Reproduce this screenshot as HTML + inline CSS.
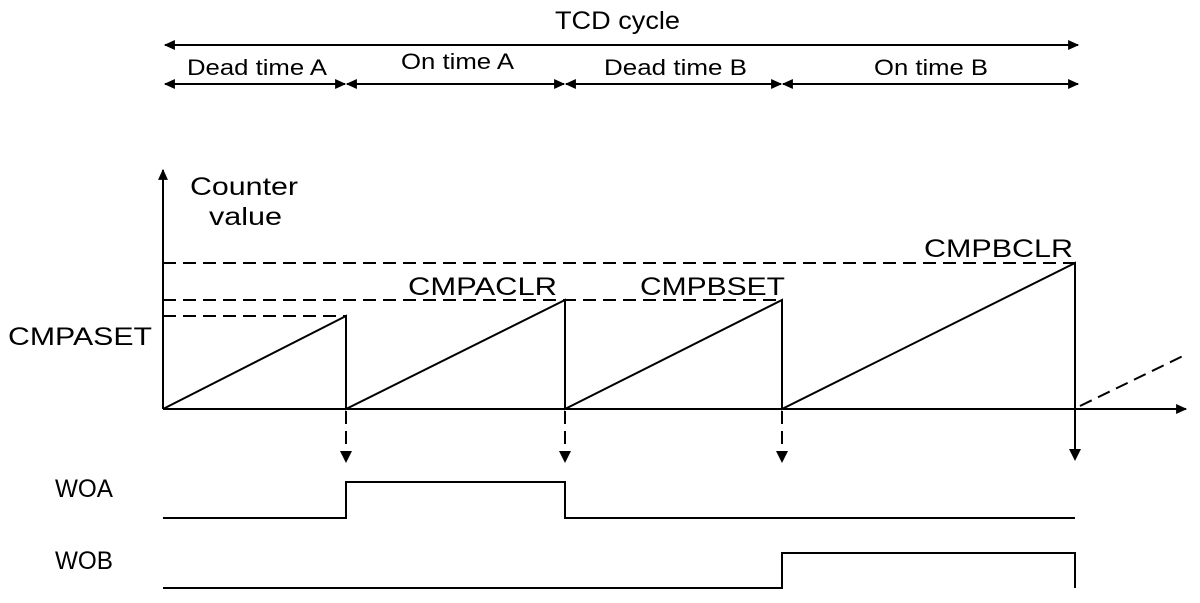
<!DOCTYPE html>
<html><head><style>body{margin:0;background:#fff}svg{display:block}</style></head><body>
<svg width="1200" height="603" viewBox="0 0 1200 603" xmlns="http://www.w3.org/2000/svg" font-family="Liberation Sans, sans-serif" fill="#000">
<defs>
<marker id="a" viewBox="0 0 10 10" refX="9" refY="5" markerWidth="12" markerHeight="11" markerUnits="userSpaceOnUse" orient="auto-start-reverse"><path d="M0,0.5 L10,5 L0,9.5z"/></marker>
</defs>
<g stroke="#000" stroke-width="2" fill="none">
<line x1="165" y1="45" x2="1078" y2="45" marker-start="url(#a)" marker-end="url(#a)"/>
<line x1="165" y1="84" x2="345" y2="84" marker-start="url(#a)" marker-end="url(#a)"/>
<line x1="347" y1="84" x2="564" y2="84" marker-start="url(#a)" marker-end="url(#a)"/>
<line x1="566" y1="84" x2="781" y2="84" marker-start="url(#a)" marker-end="url(#a)"/>
<line x1="783" y1="84" x2="1078" y2="84" marker-start="url(#a)" marker-end="url(#a)"/>
<line x1="163" y1="409" x2="163" y2="170" marker-end="url(#a)"/>
<line x1="163" y1="409" x2="1186" y2="409" marker-end="url(#a)"/>
<g stroke-dasharray="13,7">
<line x1="163" y1="263" x2="1082" y2="263"/>
<line x1="163" y1="300" x2="782" y2="300"/>
<line x1="163" y1="316" x2="346" y2="316"/>
<line x1="1080" y1="406" x2="1185" y2="355"/>
<line x1="346" y1="411" x2="346" y2="453"/>
<line x1="565" y1="411" x2="565" y2="453"/>
<line x1="782" y1="411" x2="782" y2="453"/>
</g>
<polyline points="163,409 346,316 346,409 565,300 565,409 782,300 782,409 1075,263 1075,450"/>
<polyline points="163,518 346,518 346,482 565,482 565,518 1075,518"/>
<polyline points="163,588 782,588 782,553 1075,553 1075,588"/>
</g>
<path d="M340,451 L352,451 L346,463z M559,451 L571,451 L565,463z M776,451 L788,451 L782,463z M1069,449 L1081,449 L1075,461z"/>
<g font-size="25">
<text x="555" y="29" textLength="125" lengthAdjust="spacingAndGlyphs">TCD cycle</text>
<text x="190" y="195" textLength="108" lengthAdjust="spacingAndGlyphs">Counter</text>
<text x="209" y="225" textLength="73" lengthAdjust="spacingAndGlyphs">value</text>
<text x="8" y="345" textLength="144" lengthAdjust="spacingAndGlyphs">CMPASET</text>
<text x="408" y="295" textLength="149" lengthAdjust="spacingAndGlyphs">CMPACLR</text>
<text x="640" y="295" textLength="145" lengthAdjust="spacingAndGlyphs">CMPBSET</text>
<text x="924" y="257" textLength="149" lengthAdjust="spacingAndGlyphs">CMPBCLR</text>
<text x="55" y="497" textLength="58" lengthAdjust="spacingAndGlyphs">WOA</text>
<text x="55" y="569" textLength="58" lengthAdjust="spacingAndGlyphs">WOB</text>
</g>
<g font-size="22">
<text x="187" y="75" textLength="140" lengthAdjust="spacingAndGlyphs">Dead time A</text>
<text x="401" y="69" textLength="113" lengthAdjust="spacingAndGlyphs">On time A</text>
<text x="604" y="75" textLength="143" lengthAdjust="spacingAndGlyphs">Dead time B</text>
<text x="874" y="75" textLength="114" lengthAdjust="spacingAndGlyphs">On time B</text>
</g>
</svg>
</body></html>
